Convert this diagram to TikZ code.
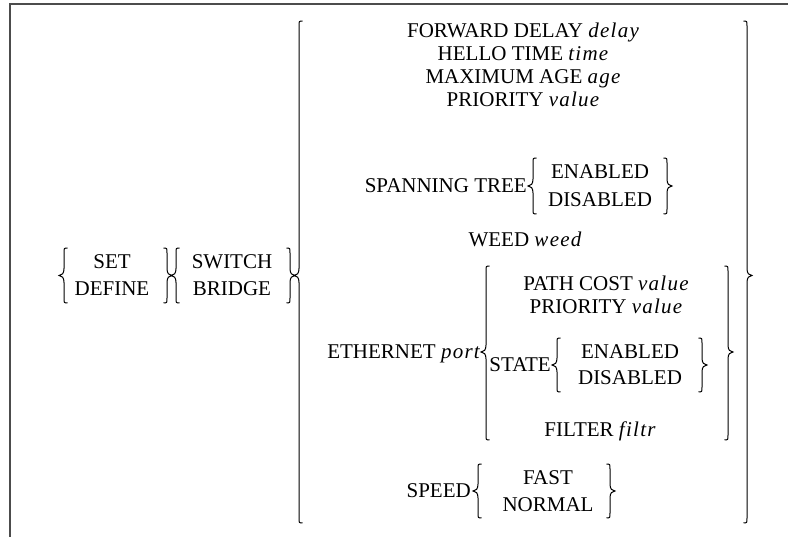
\documentclass[tikz,border=0pt]{standalone}
\usepackage{fontspec}
\setmainfont{Liberation Serif}
\newcommand\vv[1]{{\itshape\addfontfeature{LetterSpace=6}#1}}
\newcommand\LBr[4]{\draw[brc] (#1+3.5,#2) .. controls (#1,#2) .. (#1,#2+5) -- (#1,#3-7) .. controls (#1,#3-2) and (#1-2,#3) .. (#1-5,#3) .. controls (#1-2,#3) and (#1,#3+2) .. (#1,#3+7) -- (#1,#4-5) .. controls (#1,#4) .. (#1+3.5,#4);}
\newcommand\RBr[4]{\draw[brc] (#1-3.5,#2) .. controls (#1,#2) .. (#1,#2+5) -- (#1,#3-7) .. controls (#1,#3-2) and (#1+2,#3) .. (#1+5,#3) .. controls (#1+2,#3) and (#1,#3+2) .. (#1,#3+7) -- (#1,#4-5) .. controls (#1,#4) .. (#1-3.5,#4);}
\begin{document}
\begin{tikzpicture}[x=1pt,y=-1pt,
  txt/.style={inner sep=0pt,text height=13.9pt,text depth=0pt,font=\fontsize{21}{23}\selectfont},
  brc/.style={line width=1pt,black},
  frame/.style={line width=1.5pt,black!70}]
\useasboundingbox (0,0) rectangle (788,537);
\draw[frame] (10,537) -- (10,4) -- (788,4);
% left groups
\node[txt] (set) at (112,262) {SET};
\node[txt] (define) at (112,289) {DEFINE};
\LBr{64}{248}{275.5}{303}
\RBr{167}{248}{275.5}{303}
\node[txt] (switch) at (232,262) {SWITCH};
\node[txt] (bridge) at (232,289) {BRIDGE};
\LBr{176}{248}{275.5}{303}
\RBr{290}{248}{275.5}{303}
% big braces
\LBr{299}{21}{275.5}{523}
\RBr{747}{21}{275.5}{523}
% main list
\node[txt] (fwd) at (523,31) {FORWARD DELAY \vv{delay}};
\node[txt] (hello) at (523,54) {HELLO TIME \vv{time}};
\node[txt] (maxage) at (523,77) {MAXIMUM AGE \vv{age}};
\node[txt] (prio) at (523,100) {PRIORITY \vv{value}};
\node[txt,anchor=east] (span) at (527,186) {SPANNING TREE};
\node[txt] (spen) at (600,172) {ENABLED};
\node[txt] (spdis) at (600,200) {DISABLED};
\LBr{533}{158}{186}{214}
\RBr{667}{158}{186}{214}
\node[txt] (weed) at (525,240) {WEED \vv{weed}};
\node[txt,anchor=east] (eth) at (480,352) {ETHERNET \vv{port}};
\LBr{486}{266}{352}{440}
\RBr{728}{266}{352}{440}
\node[txt] (pcost) at (606,284) {PATH COST \vv{value}};
\node[txt] (eprio) at (606,307) {PRIORITY \vv{value}};
\node[txt,anchor=east] (state) at (551,365) {STATE};
\LBr{557}{338}{365}{392}
\RBr{702}{338}{365}{392}
\node[txt] (sten) at (630,352) {ENABLED};
\node[txt] (stdis) at (630,378) {DISABLED};
\node[txt] (filter) at (600,430) {FILTER \vv{filtr}};
\node[txt,anchor=east] (speed) at (471,491) {SPEED};
\LBr{478}{464}{491}{518}
\RBr{610}{464}{491}{518}
\node[txt] (fast) at (548,478) {FAST};
\node[txt] (normal) at (548,505) {NORMAL};
\end{tikzpicture}
\end{document}
